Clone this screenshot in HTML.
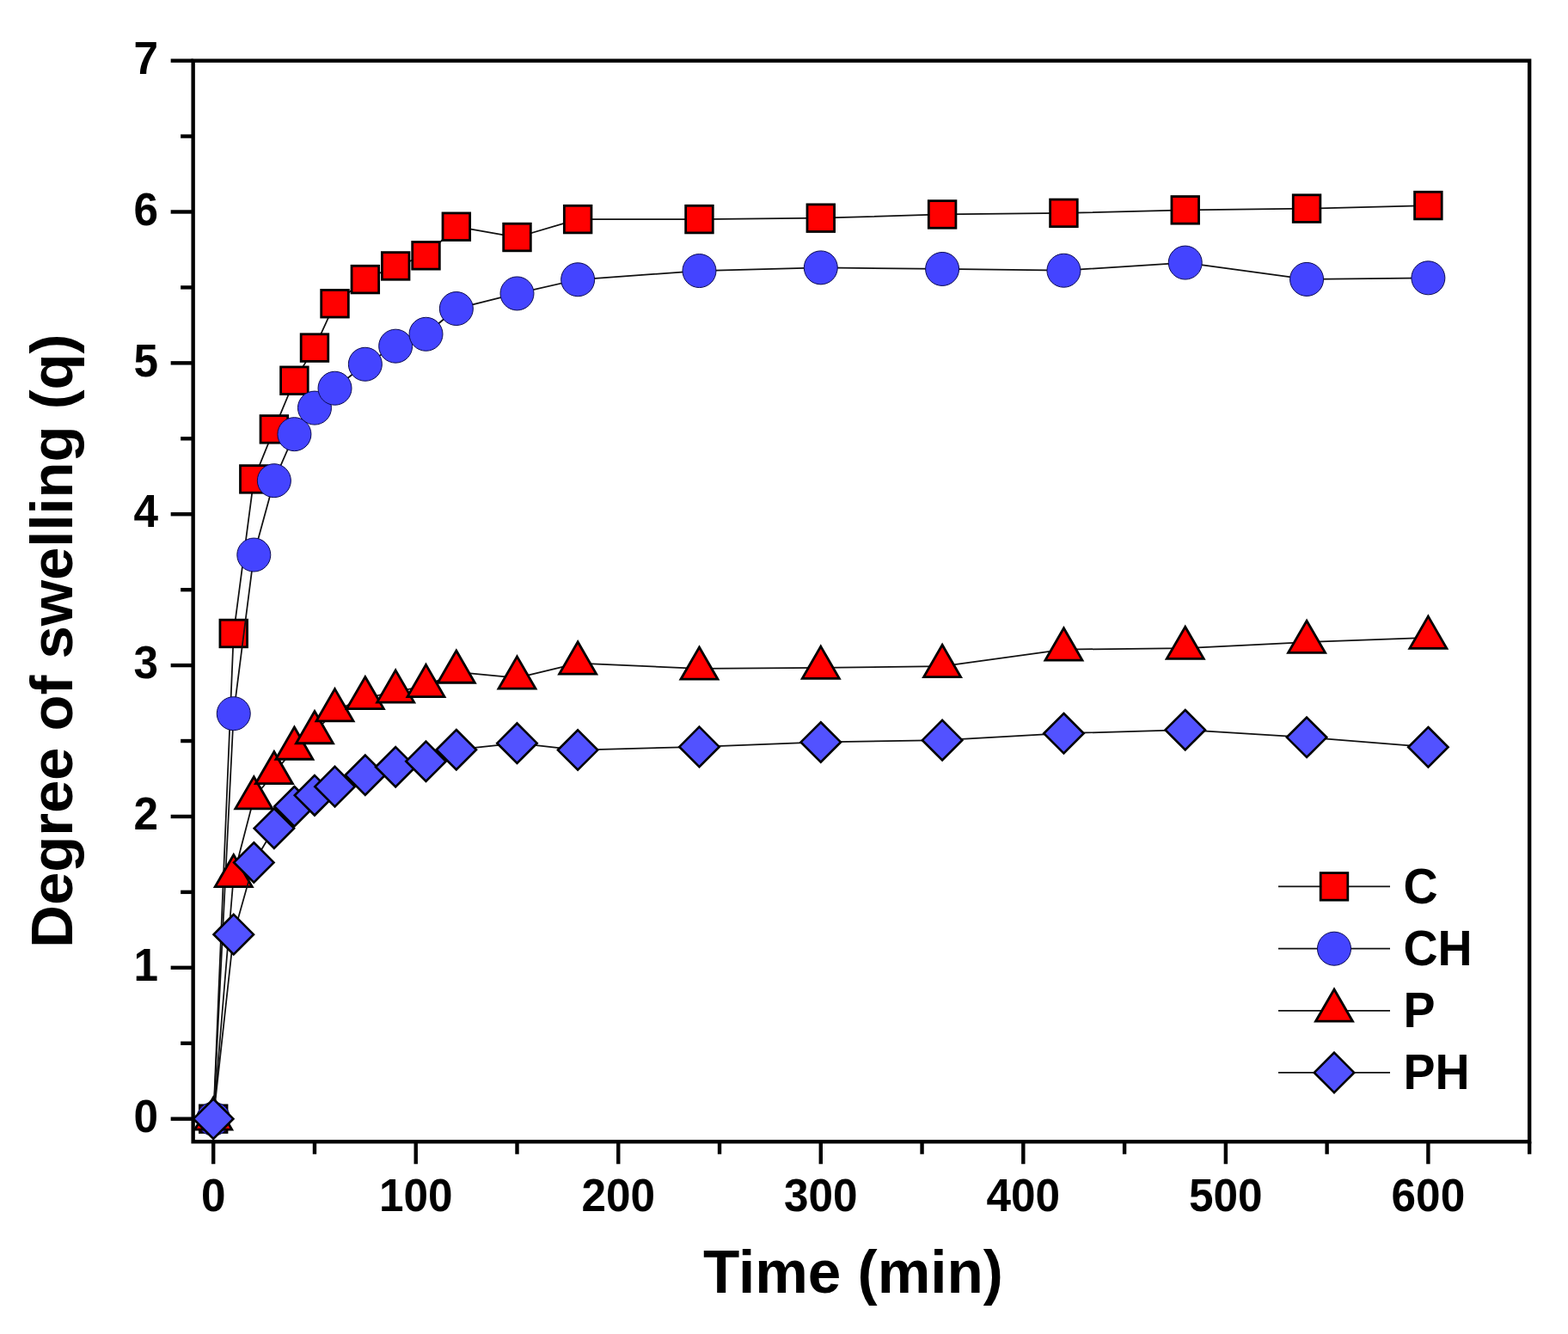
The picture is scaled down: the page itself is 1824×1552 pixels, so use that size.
<!DOCTYPE html>
<html><head><meta charset="utf-8"><title>Degree of swelling</title>
<style>html,body{margin:0;padding:0;background:#fff;}svg{display:block;}</style>
</head><body>
<svg width="1824" height="1552" viewBox="0 0 1824 1552">
<rect width="100%" height="100%" fill="#fff"/>
<polyline points="248.2,1301.7 271.75,736.98 295.31,557.42 318.86,499.38 342.41,442.75 365.97,404.59 389.52,353.23 424.85,325.09 460.18,309.44 495.51,297.31 530.84,263.72 601.5,276.03 672.15,255.1 813.47,255.1 954.79,253.69 1096.11,249.47 1237.43,247.89 1378.74,244.37 1520.06,242.61 1661.38,239.09" fill="none" stroke="#111" stroke-width="1.75" stroke-linejoin="round"/>
<rect x="232.4" y="1285.9" width="31.6" height="31.6" fill="#ff0000" stroke="#000" stroke-width="2.8"/>
<rect x="255.95" y="721.18" width="31.6" height="31.6" fill="#ff0000" stroke="#000" stroke-width="2.8"/>
<rect x="279.51" y="541.62" width="31.6" height="31.6" fill="#ff0000" stroke="#000" stroke-width="2.8"/>
<rect x="303.06" y="483.58" width="31.6" height="31.6" fill="#ff0000" stroke="#000" stroke-width="2.8"/>
<rect x="326.61" y="426.95" width="31.6" height="31.6" fill="#ff0000" stroke="#000" stroke-width="2.8"/>
<rect x="350.17" y="388.79" width="31.6" height="31.6" fill="#ff0000" stroke="#000" stroke-width="2.8"/>
<rect x="373.72" y="337.43" width="31.6" height="31.6" fill="#ff0000" stroke="#000" stroke-width="2.8"/>
<rect x="409.05" y="309.29" width="31.6" height="31.6" fill="#ff0000" stroke="#000" stroke-width="2.8"/>
<rect x="444.38" y="293.64" width="31.6" height="31.6" fill="#ff0000" stroke="#000" stroke-width="2.8"/>
<rect x="479.71" y="281.51" width="31.6" height="31.6" fill="#ff0000" stroke="#000" stroke-width="2.8"/>
<rect x="515.04" y="247.92" width="31.6" height="31.6" fill="#ff0000" stroke="#000" stroke-width="2.8"/>
<rect x="585.7" y="260.23" width="31.6" height="31.6" fill="#ff0000" stroke="#000" stroke-width="2.8"/>
<rect x="656.35" y="239.3" width="31.6" height="31.6" fill="#ff0000" stroke="#000" stroke-width="2.8"/>
<rect x="797.67" y="239.3" width="31.6" height="31.6" fill="#ff0000" stroke="#000" stroke-width="2.8"/>
<rect x="938.99" y="237.89" width="31.6" height="31.6" fill="#ff0000" stroke="#000" stroke-width="2.8"/>
<rect x="1080.31" y="233.67" width="31.6" height="31.6" fill="#ff0000" stroke="#000" stroke-width="2.8"/>
<rect x="1221.63" y="232.09" width="31.6" height="31.6" fill="#ff0000" stroke="#000" stroke-width="2.8"/>
<rect x="1362.94" y="228.57" width="31.6" height="31.6" fill="#ff0000" stroke="#000" stroke-width="2.8"/>
<rect x="1504.26" y="226.81" width="31.6" height="31.6" fill="#ff0000" stroke="#000" stroke-width="2.8"/>
<rect x="1645.58" y="223.29" width="31.6" height="31.6" fill="#ff0000" stroke="#000" stroke-width="2.8"/>
<polyline points="248.2,1301.7 271.75,830.19 295.31,645.53 318.86,559.18 342.41,505.18 365.97,474.58 389.52,451.72 424.85,423.76 460.18,402.65 495.51,388.76 530.84,359.04 601.5,341.45 672.15,325.27 813.47,315.07 954.79,311.38 1096.11,312.96 1237.43,314.72 1378.74,305.57 1520.06,324.92 1661.38,323.34" fill="none" stroke="#111" stroke-width="1.75" stroke-linejoin="round"/>
<circle cx="248.2" cy="1301.7" r="19.5" fill="#4444ff" stroke="#0a0a50" stroke-width="1"/>
<circle cx="271.75" cy="830.19" r="19.5" fill="#4444ff" stroke="#0a0a50" stroke-width="1"/>
<circle cx="295.31" cy="645.53" r="19.5" fill="#4444ff" stroke="#0a0a50" stroke-width="1"/>
<circle cx="318.86" cy="559.18" r="19.5" fill="#4444ff" stroke="#0a0a50" stroke-width="1"/>
<circle cx="342.41" cy="505.18" r="19.5" fill="#4444ff" stroke="#0a0a50" stroke-width="1"/>
<circle cx="365.97" cy="474.58" r="19.5" fill="#4444ff" stroke="#0a0a50" stroke-width="1"/>
<circle cx="389.52" cy="451.72" r="19.5" fill="#4444ff" stroke="#0a0a50" stroke-width="1"/>
<circle cx="424.85" cy="423.76" r="19.5" fill="#4444ff" stroke="#0a0a50" stroke-width="1"/>
<circle cx="460.18" cy="402.65" r="19.5" fill="#4444ff" stroke="#0a0a50" stroke-width="1"/>
<circle cx="495.51" cy="388.76" r="19.5" fill="#4444ff" stroke="#0a0a50" stroke-width="1"/>
<circle cx="530.84" cy="359.04" r="19.5" fill="#4444ff" stroke="#0a0a50" stroke-width="1"/>
<circle cx="601.5" cy="341.45" r="19.5" fill="#4444ff" stroke="#0a0a50" stroke-width="1"/>
<circle cx="672.15" cy="325.27" r="19.5" fill="#4444ff" stroke="#0a0a50" stroke-width="1"/>
<circle cx="813.47" cy="315.07" r="19.5" fill="#4444ff" stroke="#0a0a50" stroke-width="1"/>
<circle cx="954.79" cy="311.38" r="19.5" fill="#4444ff" stroke="#0a0a50" stroke-width="1"/>
<circle cx="1096.11" cy="312.96" r="19.5" fill="#4444ff" stroke="#0a0a50" stroke-width="1"/>
<circle cx="1237.43" cy="314.72" r="19.5" fill="#4444ff" stroke="#0a0a50" stroke-width="1"/>
<circle cx="1378.74" cy="305.57" r="19.5" fill="#4444ff" stroke="#0a0a50" stroke-width="1"/>
<circle cx="1520.06" cy="324.92" r="19.5" fill="#4444ff" stroke="#0a0a50" stroke-width="1"/>
<circle cx="1661.38" cy="323.34" r="19.5" fill="#4444ff" stroke="#0a0a50" stroke-width="1"/>
<polyline points="248.2,1301.7 271.75,1019.25 295.31,928.5 318.86,899.31 342.41,870.82 365.97,852.35 389.52,826.5 424.85,812.25 460.18,804.69 495.51,798.18 530.84,781.83 601.5,788.69 672.15,771.63 813.47,777.78 954.79,776.9 1096.11,775.15 1237.43,755.62 1378.74,754.04 1520.06,747.01 1661.38,741.91" fill="none" stroke="#111" stroke-width="1.75" stroke-linejoin="round"/>
<polygon points="248.2,1276.87 269.7,1314.11 226.7,1314.11" fill="#ff0000" stroke="#000" stroke-width="2.8" stroke-linejoin="miter" stroke-miterlimit="10"/>
<polygon points="271.75,994.43 293.25,1031.67 250.25,1031.67" fill="#ff0000" stroke="#000" stroke-width="2.8" stroke-linejoin="miter" stroke-miterlimit="10"/>
<polygon points="295.31,903.68 316.81,940.92 273.81,940.92" fill="#ff0000" stroke="#000" stroke-width="2.8" stroke-linejoin="miter" stroke-miterlimit="10"/>
<polygon points="318.86,874.48 340.36,911.72 297.36,911.72" fill="#ff0000" stroke="#000" stroke-width="2.8" stroke-linejoin="miter" stroke-miterlimit="10"/>
<polygon points="342.41,845.99 363.91,883.23 320.91,883.23" fill="#ff0000" stroke="#000" stroke-width="2.8" stroke-linejoin="miter" stroke-miterlimit="10"/>
<polygon points="365.97,827.53 387.47,864.77 344.47,864.77" fill="#ff0000" stroke="#000" stroke-width="2.8" stroke-linejoin="miter" stroke-miterlimit="10"/>
<polygon points="389.52,801.67 411.02,838.91 368.02,838.91" fill="#ff0000" stroke="#000" stroke-width="2.8" stroke-linejoin="miter" stroke-miterlimit="10"/>
<polygon points="424.85,787.43 446.35,824.67 403.35,824.67" fill="#ff0000" stroke="#000" stroke-width="2.8" stroke-linejoin="miter" stroke-miterlimit="10"/>
<polygon points="460.18,779.87 481.68,817.1 438.68,817.1" fill="#ff0000" stroke="#000" stroke-width="2.8" stroke-linejoin="miter" stroke-miterlimit="10"/>
<polygon points="495.51,773.36 517.01,810.6 474.01,810.6" fill="#ff0000" stroke="#000" stroke-width="2.8" stroke-linejoin="miter" stroke-miterlimit="10"/>
<polygon points="530.84,757 552.34,794.24 509.34,794.24" fill="#ff0000" stroke="#000" stroke-width="2.8" stroke-linejoin="miter" stroke-miterlimit="10"/>
<polygon points="601.5,763.86 623,801.1 580,801.1" fill="#ff0000" stroke="#000" stroke-width="2.8" stroke-linejoin="miter" stroke-miterlimit="10"/>
<polygon points="672.15,746.8 693.65,784.04 650.65,784.04" fill="#ff0000" stroke="#000" stroke-width="2.8" stroke-linejoin="miter" stroke-miterlimit="10"/>
<polygon points="813.47,752.96 834.97,790.2 791.97,790.2" fill="#ff0000" stroke="#000" stroke-width="2.8" stroke-linejoin="miter" stroke-miterlimit="10"/>
<polygon points="954.79,752.08 976.29,789.32 933.29,789.32" fill="#ff0000" stroke="#000" stroke-width="2.8" stroke-linejoin="miter" stroke-miterlimit="10"/>
<polygon points="1096.11,750.32 1117.61,787.56 1074.61,787.56" fill="#ff0000" stroke="#000" stroke-width="2.8" stroke-linejoin="miter" stroke-miterlimit="10"/>
<polygon points="1237.43,730.8 1258.93,768.04 1215.93,768.04" fill="#ff0000" stroke="#000" stroke-width="2.8" stroke-linejoin="miter" stroke-miterlimit="10"/>
<polygon points="1378.74,729.21 1400.24,766.45 1357.24,766.45" fill="#ff0000" stroke="#000" stroke-width="2.8" stroke-linejoin="miter" stroke-miterlimit="10"/>
<polygon points="1520.06,722.18 1541.56,759.42 1498.56,759.42" fill="#ff0000" stroke="#000" stroke-width="2.8" stroke-linejoin="miter" stroke-miterlimit="10"/>
<polygon points="1661.38,717.08 1682.88,754.32 1639.88,754.32" fill="#ff0000" stroke="#000" stroke-width="2.8" stroke-linejoin="miter" stroke-miterlimit="10"/>
<polyline points="248.2,1301.7 271.75,1087.14 295.31,1003.42 318.86,963.68 342.41,938.18 365.97,925.34 389.52,915.14 424.85,901.77 460.18,892.27 495.51,885.77 530.84,872.23 601.5,864.66 672.15,872.58 813.47,868.88 954.79,863.43 1096.11,861.15 1237.43,853.23 1378.74,849.19 1520.06,857.8 1661.38,869.24" fill="none" stroke="#111" stroke-width="1.75" stroke-linejoin="round"/>
<polygon points="248.2,1278.5 271.4,1301.7 248.2,1324.9 225,1301.7" fill="#5252ff" stroke="#000" stroke-width="2.6" stroke-miterlimit="10"/>
<polygon points="271.75,1063.94 294.95,1087.14 271.75,1110.34 248.55,1087.14" fill="#5252ff" stroke="#000" stroke-width="2.6" stroke-miterlimit="10"/>
<polygon points="295.31,980.22 318.51,1003.42 295.31,1026.62 272.11,1003.42" fill="#5252ff" stroke="#000" stroke-width="2.6" stroke-miterlimit="10"/>
<polygon points="318.86,940.48 342.06,963.68 318.86,986.88 295.66,963.68" fill="#5252ff" stroke="#000" stroke-width="2.6" stroke-miterlimit="10"/>
<polygon points="342.41,914.98 365.61,938.18 342.41,961.38 319.21,938.18" fill="#5252ff" stroke="#000" stroke-width="2.6" stroke-miterlimit="10"/>
<polygon points="365.97,902.14 389.17,925.34 365.97,948.54 342.77,925.34" fill="#5252ff" stroke="#000" stroke-width="2.6" stroke-miterlimit="10"/>
<polygon points="389.52,891.94 412.72,915.14 389.52,938.34 366.32,915.14" fill="#5252ff" stroke="#000" stroke-width="2.6" stroke-miterlimit="10"/>
<polygon points="424.85,878.57 448.05,901.77 424.85,924.97 401.65,901.77" fill="#5252ff" stroke="#000" stroke-width="2.6" stroke-miterlimit="10"/>
<polygon points="460.18,869.07 483.38,892.27 460.18,915.47 436.98,892.27" fill="#5252ff" stroke="#000" stroke-width="2.6" stroke-miterlimit="10"/>
<polygon points="495.51,862.57 518.71,885.77 495.51,908.97 472.31,885.77" fill="#5252ff" stroke="#000" stroke-width="2.6" stroke-miterlimit="10"/>
<polygon points="530.84,849.03 554.04,872.23 530.84,895.43 507.64,872.23" fill="#5252ff" stroke="#000" stroke-width="2.6" stroke-miterlimit="10"/>
<polygon points="601.5,841.46 624.7,864.66 601.5,887.86 578.29,864.66" fill="#5252ff" stroke="#000" stroke-width="2.6" stroke-miterlimit="10"/>
<polygon points="672.15,849.38 695.35,872.58 672.15,895.78 648.95,872.58" fill="#5252ff" stroke="#000" stroke-width="2.6" stroke-miterlimit="10"/>
<polygon points="813.47,845.68 836.67,868.88 813.47,892.08 790.27,868.88" fill="#5252ff" stroke="#000" stroke-width="2.6" stroke-miterlimit="10"/>
<polygon points="954.79,840.23 977.99,863.43 954.79,886.63 931.59,863.43" fill="#5252ff" stroke="#000" stroke-width="2.6" stroke-miterlimit="10"/>
<polygon points="1096.11,837.95 1119.31,861.15 1096.11,884.35 1072.91,861.15" fill="#5252ff" stroke="#000" stroke-width="2.6" stroke-miterlimit="10"/>
<polygon points="1237.43,830.03 1260.63,853.23 1237.43,876.43 1214.23,853.23" fill="#5252ff" stroke="#000" stroke-width="2.6" stroke-miterlimit="10"/>
<polygon points="1378.74,825.99 1401.94,849.19 1378.74,872.39 1355.54,849.19" fill="#5252ff" stroke="#000" stroke-width="2.6" stroke-miterlimit="10"/>
<polygon points="1520.06,834.6 1543.26,857.8 1520.06,881 1496.86,857.8" fill="#5252ff" stroke="#000" stroke-width="2.6" stroke-miterlimit="10"/>
<polygon points="1661.38,846.04 1684.58,869.24 1661.38,892.44 1638.18,869.24" fill="#5252ff" stroke="#000" stroke-width="2.6" stroke-miterlimit="10"/>
<g stroke="#000" stroke-width="4.4" stroke-linecap="butt">
<rect x="224.65" y="70.61" width="1554.5" height="1257.65" fill="none" stroke="#000" stroke-width="4.4" stroke-linejoin="miter"/>
<line x1="198.65" y1="1301.7" x2="224.65" y2="1301.7"/>
<line x1="210.15" y1="1213.77" x2="224.65" y2="1213.77"/>
<line x1="198.65" y1="1125.83" x2="224.65" y2="1125.83"/>
<line x1="210.15" y1="1037.89" x2="224.65" y2="1037.89"/>
<line x1="198.65" y1="949.96" x2="224.65" y2="949.96"/>
<line x1="210.15" y1="862.03" x2="224.65" y2="862.03"/>
<line x1="198.65" y1="774.09" x2="224.65" y2="774.09"/>
<line x1="210.15" y1="686.15" x2="224.65" y2="686.15"/>
<line x1="198.65" y1="598.22" x2="224.65" y2="598.22"/>
<line x1="210.15" y1="510.29" x2="224.65" y2="510.29"/>
<line x1="198.65" y1="422.35" x2="224.65" y2="422.35"/>
<line x1="210.15" y1="334.41" x2="224.65" y2="334.41"/>
<line x1="198.65" y1="246.48" x2="224.65" y2="246.48"/>
<line x1="210.15" y1="158.55" x2="224.65" y2="158.55"/>
<line x1="198.65" y1="70.61" x2="224.65" y2="70.61"/>
<line x1="248.2" y1="1328.26" x2="248.2" y2="1354.26"/>
<line x1="365.97" y1="1328.26" x2="365.97" y2="1342.76"/>
<line x1="483.73" y1="1328.26" x2="483.73" y2="1354.26"/>
<line x1="601.5" y1="1328.26" x2="601.5" y2="1342.76"/>
<line x1="719.26" y1="1328.26" x2="719.26" y2="1354.26"/>
<line x1="837.03" y1="1328.26" x2="837.03" y2="1342.76"/>
<line x1="954.79" y1="1328.26" x2="954.79" y2="1354.26"/>
<line x1="1072.56" y1="1328.26" x2="1072.56" y2="1342.76"/>
<line x1="1190.32" y1="1328.26" x2="1190.32" y2="1354.26"/>
<line x1="1308.09" y1="1328.26" x2="1308.09" y2="1342.76"/>
<line x1="1425.85" y1="1328.26" x2="1425.85" y2="1354.26"/>
<line x1="1543.62" y1="1328.26" x2="1543.62" y2="1342.76"/>
<line x1="1661.38" y1="1328.26" x2="1661.38" y2="1354.26"/>
<line x1="1779.15" y1="1328.26" x2="1779.15" y2="1342.76"/>
</g>
<g font-family="'Liberation Sans', Arial, Helvetica, sans-serif" font-weight="bold" font-size="51.3" fill="#000">
<text transform="translate(184,1316.9) scale(1,1.03)" text-anchor="end">0</text>
<text transform="translate(184,1141.03) scale(1,1.03)" text-anchor="end">1</text>
<text transform="translate(184,965.16) scale(1,1.03)" text-anchor="end">2</text>
<text transform="translate(184,789.29) scale(1,1.03)" text-anchor="end">3</text>
<text transform="translate(184,613.42) scale(1,1.03)" text-anchor="end">4</text>
<text transform="translate(184,437.55) scale(1,1.03)" text-anchor="end">5</text>
<text transform="translate(184,261.68) scale(1,1.03)" text-anchor="end">6</text>
<text transform="translate(184,85.81) scale(1,1.03)" text-anchor="end">7</text>
<text transform="translate(248.2,1408.7) scale(1,1.03)" text-anchor="middle">0</text>
<text transform="translate(483.73,1408.7) scale(1,1.03)" text-anchor="middle">100</text>
<text transform="translate(719.26,1408.7) scale(1,1.03)" text-anchor="middle">200</text>
<text transform="translate(954.79,1408.7) scale(1,1.03)" text-anchor="middle">300</text>
<text transform="translate(1190.32,1408.7) scale(1,1.03)" text-anchor="middle">400</text>
<text transform="translate(1425.85,1408.7) scale(1,1.03)" text-anchor="middle">500</text>
<text transform="translate(1661.38,1408.7) scale(1,1.03)" text-anchor="middle">600</text>
</g>
<line x1="1487" y1="1031.4" x2="1617" y2="1031.4" stroke="#111" stroke-width="1.75"/>
<rect x="1536.2" y="1015.6" width="31.6" height="31.6" fill="#ff0000" stroke="#000" stroke-width="2.8"/>
<text transform="translate(1632.5,1050.5) scale(1,1.05)" font-family="'Liberation Sans', Arial, Helvetica, sans-serif" font-weight="bold" font-size="55.5">C</text>
<line x1="1487" y1="1103.7" x2="1617" y2="1103.7" stroke="#111" stroke-width="1.75"/>
<circle cx="1552" cy="1103.7" r="19.5" fill="#4444ff" stroke="#0a0a50" stroke-width="1"/>
<text transform="translate(1632.5,1122.8) scale(1,1.05)" font-family="'Liberation Sans', Arial, Helvetica, sans-serif" font-weight="bold" font-size="55.5">CH</text>
<line x1="1487" y1="1175.8" x2="1617" y2="1175.8" stroke="#111" stroke-width="1.75"/>
<polygon points="1552,1150.97 1573.5,1188.21 1530.5,1188.21" fill="#ff0000" stroke="#000" stroke-width="2.8" stroke-linejoin="miter" stroke-miterlimit="10"/>
<text transform="translate(1632.5,1194.9) scale(1,1.05)" font-family="'Liberation Sans', Arial, Helvetica, sans-serif" font-weight="bold" font-size="55.5">P</text>
<line x1="1487" y1="1247.9" x2="1617" y2="1247.9" stroke="#111" stroke-width="1.75"/>
<polygon points="1552,1224.7 1575.2,1247.9 1552,1271.1 1528.8,1247.9" fill="#5252ff" stroke="#000" stroke-width="2.6" stroke-miterlimit="10"/>
<text transform="translate(1632.5,1267) scale(1,1.05)" font-family="'Liberation Sans', Arial, Helvetica, sans-serif" font-weight="bold" font-size="55.5">PH</text>
<text transform="translate(817.9,1503.6) scale(1,1.01)" font-family="'Liberation Sans', Arial, Helvetica, sans-serif" font-weight="bold" font-size="69.3">Time (min)</text>
<text transform="translate(84.1,1102.7) rotate(-90) scale(1,1.01)" font-family="'Liberation Sans', Arial, Helvetica, sans-serif" font-weight="bold" font-size="68.75">Degree of swelling (q)</text>
</svg>
</body></html>
